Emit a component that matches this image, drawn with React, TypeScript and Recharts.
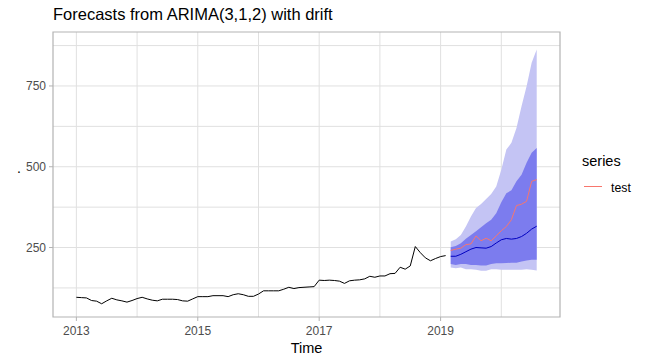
import React from 'react';
import { ComposedChart, Line, Area, XAxis, YAxis, CartesianGrid, ReferenceArea } from 'recharts';

const START_YEAR = 2013;
const FORECAST_START = 2019 + 2 / 12; // Mar 2019

const HISTORY = [
  96, 95, 94, 86, 84, 76, 85, 93, 88, 85, 81, 86,
  92, 96, 91, 87, 85, 90, 90, 90, 89, 85, 84, 91,
  98, 98, 98, 101, 101, 101, 98, 104, 107, 104, 99, 99,
  106, 116, 116, 116, 116, 121, 127, 123, 126, 127, 128, 129,
  149, 148, 149, 148, 146, 139, 147, 149, 150, 153, 161, 158,
  162, 162, 169, 170, 189, 183, 193, 253, 234, 218, 209, 216,
  222, 225,
];

const MEAN = [223, 223, 229, 237, 245, 250, 249, 248, 253, 264, 274, 278, 276, 278, 284, 294, 307, 316];
const TEST = [241, 245, 248, 259, 261, 286, 271, 279, 271, 286, 302, 315, 336, 380, 384, 393, 455, 460];
const LO80 = [199, 196, 199, 199, 196, 196, 194, 194, 199, 201, 201, 202, 203, 203, 207, 210, 212, 212];
const HI80 = [251, 255, 263, 277, 289, 300, 313, 325, 336, 356, 390, 418, 427, 455, 475, 512, 543, 558];
const LO95 = [188, 186, 188, 183, 183, 181, 178, 178, 183, 183, 181, 181, 181, 181, 181, 183, 181, 179];
const HI95 = [269, 276, 289, 315, 346, 372, 385, 400, 416, 439, 491, 553, 574, 620, 687, 749, 822, 863];

const X_TICKS = [2013, 2015, 2017, 2019];
const X_GRID = [2013, 2014, 2015, 2016, 2017, 2018, 2019, 2020];
const Y_TICKS = [250, 500, 750];
const Y_GRID = [125, 250, 375, 500, 625, 750, 875];

const X_DOMAIN: [number, number] = [2012.615, 2020.967];
const Y_DOMAIN: [number, number] = [35, 917];

type Row = {
  t: number;
  hist?: number;
  mean?: number;
  test?: number;
  b80?: [number, number];
  b95?: [number, number];
};

const data: Row[] = [
  ...HISTORY.map((v, i) => ({ t: START_YEAR + i / 12, hist: v })),
  ...MEAN.map((v, j) => ({
    t: FORECAST_START + j / 12,
    mean: v,
    test: TEST[j],
    b80: [LO80[j], HI80[j]] as [number, number],
    b95: [LO95[j], HI95[j]] as [number, number],
  })),
];

const FONT = '"Liberation Sans", Arial, sans-serif';

export default function App() {
  return (
    <div style={{ position: 'absolute', left: 0, top: 0, width: 647, height: 362, background: '#fff', fontFamily: FONT }}>
      <div style={{ position: 'absolute', left: 53, top: 5, fontSize: 16.5, color: '#000', whiteSpace: 'nowrap' }}>
        Forecasts from ARIMA(3,1,2) with drift
      </div>
      <div style={{ position: 'absolute', left: 17, top: 160, fontSize: 14, color: '#000' }}>.</div>
      <ComposedChart
        width={647}
        height={362}
        data={data}
        margin={{ top: 32, right: 87, bottom: 15, left: 8 }}
        style={{ fontFamily: FONT }}
      >
        <CartesianGrid
          stroke="#e0e0e0"
          strokeWidth={1}
          verticalValues={X_GRID}
          horizontalValues={Y_GRID}
        />
        <XAxis
          dataKey="t"
          type="number"
          domain={X_DOMAIN}
          ticks={X_TICKS}
          allowDataOverflow
          height={30}
          axisLine={false}
          tickLine={{ stroke: '#b3b3b3' }}
          tickSize={4}
          tickMargin={5}
          tick={{ fill: '#4d4d4d', fontSize: 12 }}
          label={{ value: 'Time', position: 'insideBottom', offset: -5.5, fill: '#000', fontSize: 14.5 }}
        />
        <YAxis
          type="number"
          domain={Y_DOMAIN}
          ticks={Y_TICKS}
          allowDataOverflow
          width={45}
          axisLine={false}
          tickLine={{ stroke: '#b3b3b3' }}
          tickSize={4}
          tickMargin={3}
          tick={{ fill: '#4d4d4d', fontSize: 12 }}
        />
        <Area dataKey="b95" type="linear" stroke="none" fill="#c4c4f4" fillOpacity={1} isAnimationActive={false} connectNulls={false} />
        <Area dataKey="b80" type="linear" stroke="none" fill="#7c7cee" fillOpacity={1} isAnimationActive={false} connectNulls={false} />
        <Line dataKey="hist" type="linear" stroke="#000" strokeWidth={1} dot={false} isAnimationActive={false} />
        <Line dataKey="mean" type="linear" stroke="#0000c0" strokeWidth={1} dot={false} isAnimationActive={false} />
        <Line dataKey="test" type="linear" stroke="#f8766d" strokeWidth={1} dot={false} isAnimationActive={false} />
        <ReferenceArea
          x1={X_DOMAIN[0]}
          x2={X_DOMAIN[1]}
          y1={Y_DOMAIN[0]}
          y2={Y_DOMAIN[1]}
          stroke="#b3b3b3"
          strokeWidth={1.2}
          fill="none"
          ifOverflow="visible"
        />
      </ComposedChart>
      <div style={{ position: 'absolute', left: 582, top: 153, fontSize: 14.5, color: '#000' }}>series</div>
      <div style={{ position: 'absolute', left: 584, top: 186, width: 18, height: 1, background: '#f8766d' }} />
      <div style={{ position: 'absolute', left: 611, top: 181, fontSize: 12.3, color: '#000' }}>test</div>
    </div>
  );
}
